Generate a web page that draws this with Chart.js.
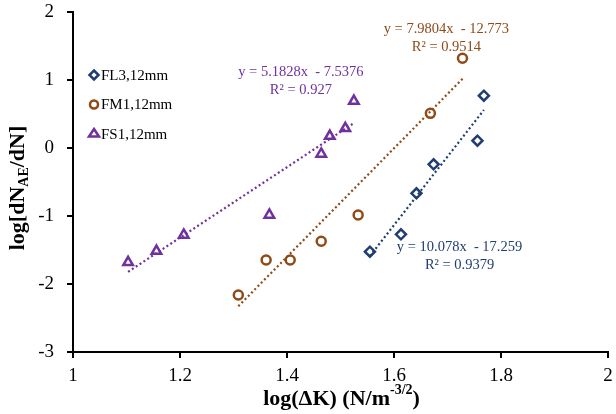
<!DOCTYPE html>
<html>
<head>
<meta charset="utf-8">
<script src="https://cdn.jsdelivr.net/npm/chart.js@4.4.1/dist/chart.umd.min.js"></script>
<style>
    html, body { margin: 0; padding: 0; background: #fff; }
    #wrap { width: 616px; height: 414px; position: relative; }
</style>
</head>
<body>
<div id="wrap"><canvas id="chartfield"></canvas></div>
<script>
// values: log(dK) vs log(dN_AE/dN)
const fl3X = [1.555, 1.613, 1.642, 1.674, 1.756, 1.768];
const fl3Y = [-1.525, -1.269, -0.666, -0.240, 0.107, 0.769];
const fm1X = [1.309, 1.361, 1.406, 1.464, 1.533, 1.668, 1.728];
const fm1Y = [-2.162, -1.647, -1.647, -1.372, -0.985, 0.510, 1.319];
const fs1X = [1.103, 1.156, 1.207, 1.367, 1.464, 1.480, 1.509, 1.525];
const fs1Y = [-1.681, -1.515, -1.279, -0.985, -0.088, 0.176, 0.290, 0.691];

// linear trendlines as printed on the chart
const slopes = [10.078, 7.9804, 5.1828];
const intercepts = [-17.259, -12.773, -7.5376];
const rSquared = ["0.9379", "0.9514", "0.927"];
const seriesNames = ["FL3,12mm", "FM1,12mm", "FS1,12mm"];

const xTicks = [1, 1.2, 1.4, 1.6, 1.8, 2];
const yTicks = [-3, -2, -1, 0, 1, 2];

const colors = ["#1f3d72", "#8e4a17", "#7030a0"];
const styles = ["rectRot", "circle", "triangle"];
const radii = [5, 4.5, 5.5];
const serif = "'Liberation Serif', 'Times New Roman', serif";

// where each equation label sits (data units)
const eqLabels = [
    { x: 1.7225, y: -1.456 },
    { x: 1.698, y: 1.75 },
    { x: 1.426, y: 1.118 },
];

function toPoints(xs, ys) {
    return xs.map((x, i) => ({ x: x, y: ys[i] }));
}

function trendPoints(xs, k) {
    const lo = Math.min(...xs);
    const hi = Math.max(...xs);
    return [lo, hi].map((x) => ({ x: x, y: slopes[k] * x + intercepts[k] }));
}

const allX = [fl3X, fm1X, fs1X];
const allY = [fl3Y, fm1Y, fs1Y];

const datasets = [];
for (let k = 0; k < 3; k++) {
    datasets.push({
        type: "line",
        label: seriesNames[k] + " trend",
        data: trendPoints(allX[k], k),
        borderColor: colors[k],
        borderWidth: 2.2,
        borderDash: [2, 2.6],
        pointRadius: 0,
        fill: false,
    });
}
for (let k = 0; k < 3; k++) {
    datasets.push({
        type: "scatter",
        label: seriesNames[k],
        data: toPoints(allX[k], allY[k]),
        pointStyle: styles[k],
        pointRadius: radii[k],
        pointBorderWidth: 2.5,
        borderColor: colors[k],
        backgroundColor: "rgba(0,0,0,0)",
    });
}

function drawMarker(ctx, style, x, y, r) {
    ctx.beginPath();
    if (style === "circle") {
        ctx.arc(x, y, r, 0, Math.PI * 2);
    } else if (style === "rectRot") {
        ctx.moveTo(x, y - r);
        ctx.lineTo(x + r, y);
        ctx.lineTo(x, y + r);
        ctx.lineTo(x - r, y);
        ctx.closePath();
    } else {
        const h = r * 1.5;
        ctx.moveTo(x, y - h * 0.66);
        ctx.lineTo(x + r, y + h * 0.34);
        ctx.lineTo(x - r, y + h * 0.34);
        ctx.closePath();
    }
    ctx.stroke();
}

const extrasPlugin = {
    id: "extras",
    afterDraw(chart) {
        const ctx = chart.ctx;
        const area = chart.chartArea;
        const xs = chart.scales.x;
        const ys = chart.scales.y;
        ctx.save();

        // legend inside plot area
        seriesNames.forEach((name, k) => {
            const cy = 75 + k * 29.5;
            ctx.strokeStyle = colors[k];
            ctx.lineWidth = 2.5;
            drawMarker(ctx, styles[k], 94, cy, radii[k] - 0.5);
            ctx.fillStyle = "#000";
            ctx.font = "15px " + serif;
            ctx.textAlign = "left";
            ctx.textBaseline = "middle";
            ctx.fillText(name, 101, cy + 1);
        });

        // trendline equations
        ctx.font = "14.5px " + serif;
        ctx.textAlign = "center";
        ctx.textBaseline = "middle";
        for (let k = 0; k < 3; k++) {
            const px = xs.getPixelForValue(eqLabels[k].x);
            const py = ys.getPixelForValue(eqLabels[k].y);
            ctx.fillStyle = colors[k];
            ctx.fillText("y = " + slopes[k] + "x  - " + Math.abs(intercepts[k]), px, py);
            ctx.fillText("R\u00b2 = " + rSquared[k], px, py + 18.5);
        }

        // x title with superscript
        ctx.fillStyle = "#000";
        ctx.textBaseline = "alphabetic";
        ctx.textAlign = "left";
        const main = "log(\u0394K) (N/m";
        const sup = "-3/2";
        const tail = ")";
        const bigFont = "bold 22px " + serif;
        const smallFont = "bold 14px " + serif;
        ctx.font = bigFont;
        const w1 = ctx.measureText(main).width;
        const w3 = ctx.measureText(tail).width;
        ctx.font = smallFont;
        const w2 = ctx.measureText(sup).width;
        let tx = (area.left + area.right) / 2 + 1 - (w1 + w2 + w3) / 2;
        const base = 405;
        ctx.font = bigFont;
        ctx.fillText(main, tx, base);
        tx += w1;
        ctx.font = smallFont;
        ctx.fillText(sup, tx, base - 11);
        tx += w2;
        ctx.font = bigFont;
        ctx.fillText(tail, tx, base);

        // y title with subscript, rotated
        ctx.translate(24, (area.top + area.bottom) / 2 + 6);
        ctx.rotate(-Math.PI / 2);
        const a = "log[dN";
        const sub = "AE";
        const b = "/dN]";
        ctx.font = bigFont;
        const wa = ctx.measureText(a).width;
        const wb = ctx.measureText(b).width;
        ctx.font = smallFont;
        const ws = ctx.measureText(sub).width;
        let sx = -(wa + ws + wb) / 2;
        ctx.font = bigFont;
        ctx.fillText(a, sx, 0);
        sx += wa;
        ctx.font = smallFont;
        ctx.fillText(sub, sx, 4);
        sx += ws;
        ctx.font = bigFont;
        ctx.fillText(b, sx, 0);

        ctx.restore();
    },
};

document.addEventListener("DOMContentLoaded", () => {
    const canvas = document.querySelector("#chartfield");
    new Chart(canvas, {
        data: { datasets: datasets },
        options: {
            responsive: true,
            maintainAspectRatio: false,
            animation: false,
            layout: { padding: { top: 12, right: 6, left: 0, bottom: 0 } },
            plugins: {
                legend: { display: false },
                tooltip: { enabled: false },
            },
            scales: {
                x: {
                    type: "linear",
                    min: 1,
                    max: 2,
                    afterBuildTicks: (scale) => {
                        scale.ticks = xTicks.map((v) => ({ value: v }));
                    },
                    afterFit: (scale) => {
                        scale.height = 62;
                        scale.paddingLeft = 0;
                        scale.paddingRight = 0;
                    },
                    border: { color: "#000", width: 2 },
                    grid: {
                        drawOnChartArea: false,
                        color: "#000",
                        lineWidth: 2,
                        tickLength: 6,
                    },
                    ticks: {
                        color: "#000",
                        font: { family: serif, size: 19 },
                        padding: 7,
                        maxRotation: 0,
                        callback: (v) => String(parseFloat(v.toFixed(1))),
                    },
                },
                y: {
                    type: "linear",
                    min: -3,
                    max: 2,
                    afterBuildTicks: (scale) => {
                        scale.ticks = yTicks.map((v) => ({ value: v }));
                    },
                    afterFit: (scale) => {
                        scale.width = 73;
                        scale.paddingTop = 0;
                        scale.paddingBottom = 0;
                    },
                    border: { color: "#000", width: 2 },
                    grid: {
                        drawOnChartArea: false,
                        color: "#000",
                        lineWidth: 2,
                        tickLength: 6,
                    },
                    ticks: {
                        color: "#000",
                        font: { family: serif, size: 19 },
                        padding: 13,
                        callback: (v) => String(v),
                    },
                },
            },
        },
        plugins: [extrasPlugin],
    });
});
</script>
</body>
</html>
